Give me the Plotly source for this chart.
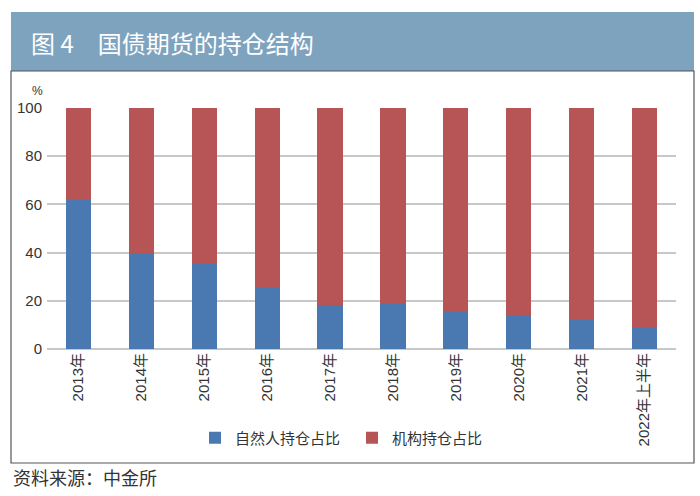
import plotly.graph_objects as go

categories = ["2013年", "2014年", "2015年", "2016年", "2017年", "2018年", "2019年", "2020年", "2021年", "2022年上半年"]
individual = [61.7, 39.7, 35.8, 25.8, 18.3, 19.1, 15.8, 14.2, 12.0, 9.1]
institution = [round(100 - v, 1) for v in individual]
y_ticks = [0, 20, 40, 60, 80, 100]

W, H = 700, 496
def px(x):
    return x / W
def py(y):
    return (H - y) / H

FONT = "Liberation Sans, Arial, Noto Sans CJK SC, sans-serif"
CJK = "Noto Sans CJK SC, sans-serif"
BLUE = "#4a79b2"
RED = "#b75456"

fig = go.Figure()
fig.add_trace(go.Bar(x=categories, y=individual, name="自然人持仓占比",
                     marker=dict(color=BLUE, line=dict(width=0))))
fig.add_trace(go.Bar(x=categories, y=institution, name="机构持仓占比",
                     marker=dict(color=RED, line=dict(width=0))))

fig.update_layout(
    width=W, height=H,
    margin=dict(l=0, r=0, t=0, b=0, pad=0, autoexpand=False),
    barmode="stack",
    bargap=0.6,
    paper_bgcolor="white",
    plot_bgcolor="white",
    font=dict(family=FONT, color="#333333", size=15),
    showlegend=True,
    legend=dict(orientation="h", x=px(195), y=py(438), xanchor="left", yanchor="middle",
                font=dict(family=CJK, size=15, color="#333333"),
                entrywidth=112, entrywidthmode="pixels", itemwidth=30,
                traceorder="normal", bgcolor="rgba(0,0,0,0)", borderwidth=0),
    xaxis=dict(domain=[px(47), px(676)], tickangle=-90, showgrid=False, automargin=False,
               showline=False, ticks="", tickfont=dict(family=FONT, size=15, color="#333333"),
               fixedrange=True),
    yaxis=dict(domain=[py(349), py(108)], range=[0, 100], tickvals=y_ticks, automargin=False,
               showgrid=True, gridcolor="#c8c8c8", gridwidth=1.6,
               zeroline=True, zerolinecolor="#c8c8c8", zerolinewidth=1.6,
               showline=False, ticks="", ticklabelstandoff=4,
               tickfont=dict(family=FONT, size=15, color="#333333"), fixedrange=True),
    shapes=[
        dict(type="rect", xref="paper", yref="paper", x0=px(11), x1=px(694), y0=py(71), y1=py(12),
             fillcolor="#7ea3bf", line=dict(width=0), layer="below"),
        dict(type="rect", xref="paper", yref="paper", x0=px(11), x1=px(694), y0=py(463), y1=py(71),
             fillcolor="rgba(0,0,0,0)", line=dict(color="#555555", width=1.2), layer="above"),
    ],
    annotations=[
        dict(text="图 4\u3000国债期货的持仓结构", xref="paper", yref="paper", x=px(29), y=py(42),
             xanchor="left", yanchor="middle", showarrow=False,
             font=dict(family=CJK, size=24, color="white")),
        dict(text="%", xref="paper", yref="paper", x=px(37), y=py(91),
             xanchor="center", yanchor="middle", showarrow=False,
             font=dict(family=FONT, size=12, color="#333333")),
        dict(text="资料来源：中金所", xref="paper", yref="paper", x=px(11), y=py(477),
             xanchor="left", yanchor="middle", showarrow=False,
             font=dict(family=CJK, size=18, color="#333333")),
    ],
)

fig.write_html("out.html", config={"displayModeBar": False},
               post_script="document.body.style.margin='0';document.body.style.padding='0';")
